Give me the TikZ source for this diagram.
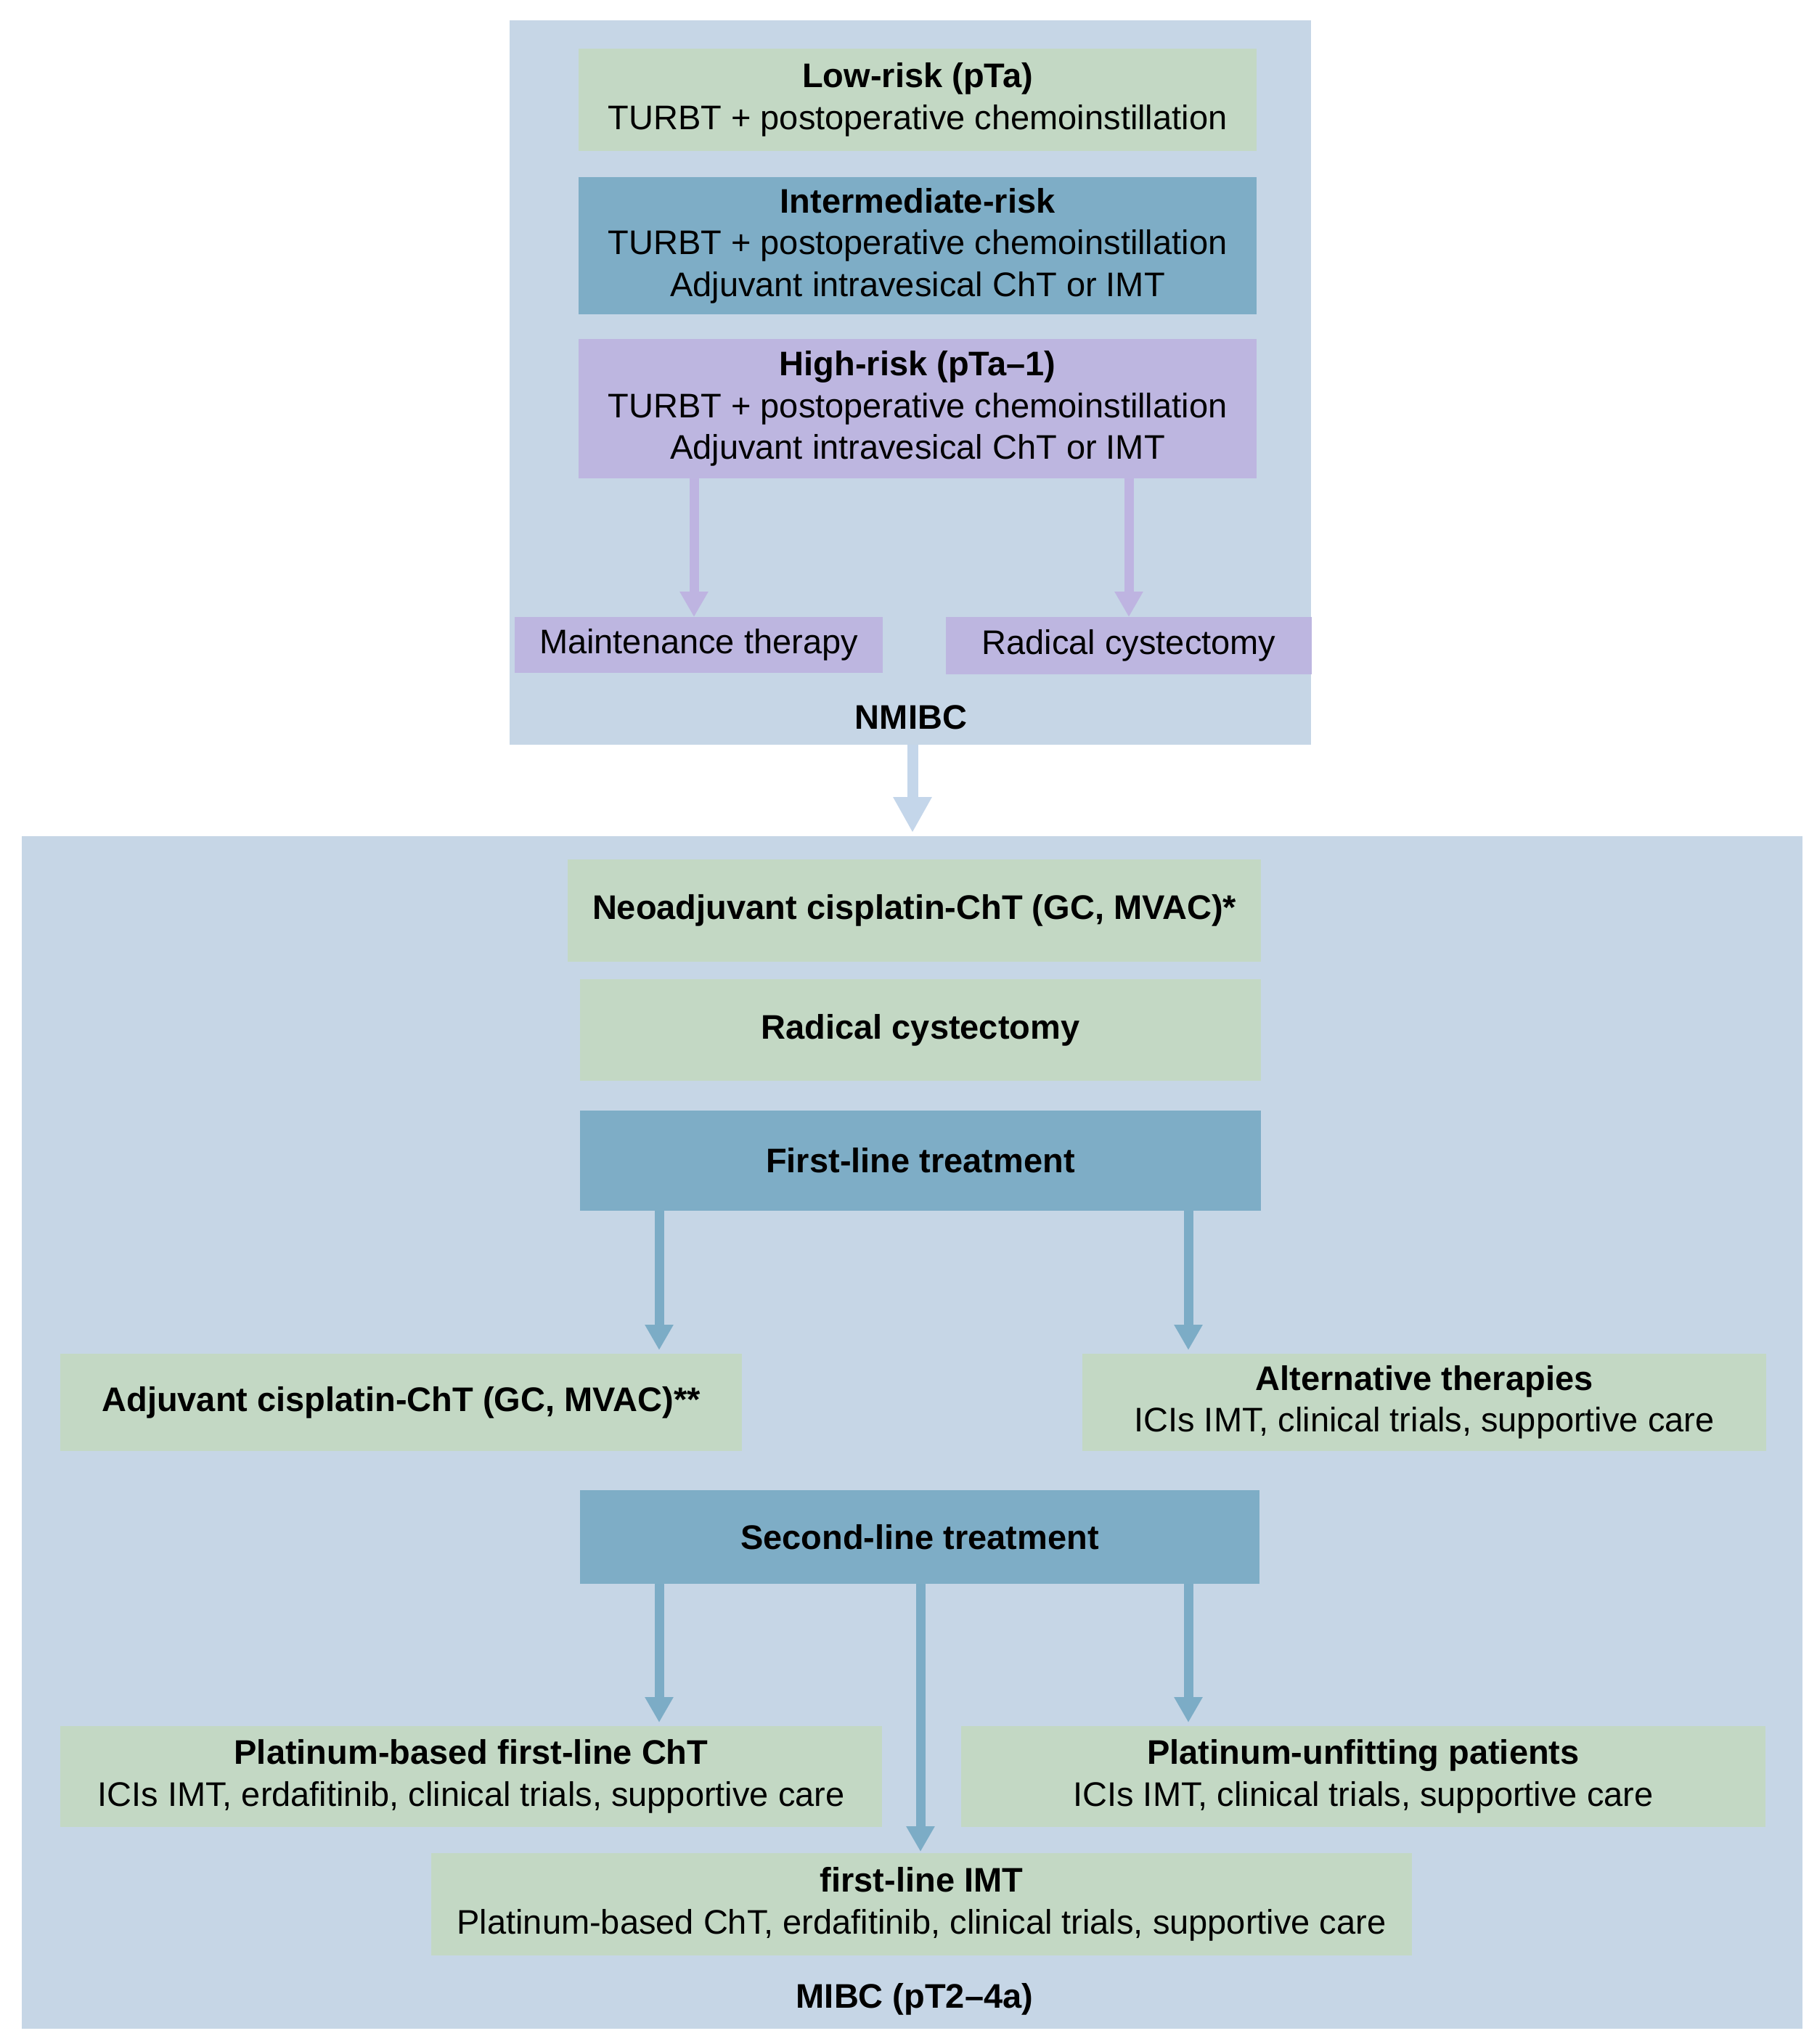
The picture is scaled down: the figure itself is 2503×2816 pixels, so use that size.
\documentclass[tikz,border=0pt]{standalone}
\usepackage{fontspec}
\setmainfont{Liberation Sans}
\usetikzlibrary{arrows.meta}
\definecolor{panelc}{RGB}{198,214,230}
\definecolor{greenc}{RGB}{195,216,196}
\definecolor{tealc}{RGB}{126,173,198}
\definecolor{purplec}{RGB}{189,182,224}
\definecolor{purplearr}{RGB}{190,180,225}
\definecolor{bluearr}{RGB}{124,172,198}
\definecolor{bigarr}{RGB}{196,214,234}
\begin{document}
\begin{tikzpicture}[x=0.25pt,y=-0.25pt,
  box/.style={inner sep=0pt, outer sep=0pt, align=center, text=black,
    font=\fontsize{11.75}{14.4}\selectfont},
  panel/.style={fill=panelc, inner sep=0pt, outer sep=0pt},
  greenbox/.style={box, fill=greenc},
  tealbox/.style={box, fill=tealc},
  purplebox/.style={box, fill=purplec},
  plabel/.style={box, font=\fontsize{11.75}{14.4}\selectfont\bfseries},
  parr/.style={draw=purplearr, line width=3.25pt, -{Triangle[width=9.25pt,length=8.75pt]}},
  barr/.style={draw=bluearr, line width=3.25pt, -{Triangle[width=9.25pt,length=8.75pt]}, shorten >=1.25pt},
  bigarrow/.style={draw=bigarr, line width=3.75pt, -{Triangle[width=12.5pt,length=12.25pt]}, shorten >=1.25pt}
]
\useasboundingbox (0,0) rectangle (2503,2816);
\fill[white] (0,0) rectangle (2503,2816);

% ---------- NMIBC panel ----------
\node[panel, minimum width=276pt, minimum height=249.5pt] (nmibc) at (1254,527) {};
\node[greenbox, minimum width=233.5pt, minimum height=35.25pt] (low) at (1264,137.5)
  {\textbf{Low-risk (pTa)}\\TURBT + postoperative chemoinstillation};
\node[tealbox, minimum width=233.5pt, minimum height=47.25pt] (inter) at (1264,338.5)
  {\textbf{Intermediate-risk}\\TURBT + postoperative chemoinstillation\\Adjuvant intravesical ChT or IMT};
\node[purplebox, minimum width=233.5pt, minimum height=48pt] (high) at (1264,563)
  {\textbf{High-risk (pTa–1)}\\TURBT + postoperative chemoinstillation\\Adjuvant intravesical ChT or IMT};
\node[purplebox, minimum width=126.75pt, minimum height=19.25pt] (maint) at (962.5,888.5)
  {Maintenance therapy};
\node[purplebox, minimum width=126pt, minimum height=19.75pt] (radtop) at (1555,889.5)
  {Radical cystectomy};
\node[plabel] (nmibclabel) at (1255,988) {NMIBC};

\coordinate (xm) at (956,0);
\coordinate (xr) at (1555,0);
\draw[parr] (high.south -| xm) -- (maint.north -| xm);
\draw[parr] (high.south -| xr) -- (radtop.north -| xr);

% ---------- MIBC panel ----------
\node[panel, minimum width=613.25pt, minimum height=410.75pt] (mibc) at (1256.5,1973.5) {};
\coordinate (xc) at (1257,0);
\draw[bigarrow] (nmibc.south -| xc) -- (mibc.north -| xc);

\node[greenbox, font=\fontsize{11.75}{14.4}\selectfont\bfseries, minimum width=238.75pt, minimum height=35.25pt] (neo) at (1259.5,1254.5)
  {Neoadjuvant cisplatin-ChT (GC, MVAC)*};
\node[greenbox, font=\fontsize{11.75}{14.4}\selectfont\bfseries, minimum width=234.5pt, minimum height=35pt] (rad) at (1268,1419)
  {Radical cystectomy};
\node[tealbox, font=\fontsize{11.75}{14.4}\selectfont\bfseries, minimum width=234.5pt, minimum height=34.5pt] (first) at (1268,1599)
  {First-line treatment};
\node[greenbox, font=\fontsize{11.75}{14.4}\selectfont\bfseries, minimum width=234.75pt, minimum height=33.5pt] (adj) at (552.5,1932)
  {Adjuvant cisplatin-ChT (GC, MVAC)**};
\node[greenbox, minimum width=235.5pt, minimum height=33.5pt] (alt) at (1962,1932)
  {\textbf{Alternative therapies}\\ICIs IMT, clinical trials, supportive care};
\node[tealbox, font=\fontsize{11.75}{14.4}\selectfont\bfseries, minimum width=234pt, minimum height=32.25pt] (second) at (1267,2117.5)
  {Second-line treatment};
\node[greenbox, minimum width=283pt, minimum height=34.75pt] (pb) at (649,2447.5)
  {\textbf{Platinum-based first-line ChT}\\ICIs IMT, erdafitinib, clinical trials, supportive care};
\node[greenbox, minimum width=277pt, minimum height=34.75pt] (pu) at (1878,2447.5)
  {\textbf{Platinum-unfitting patients}\\ICIs IMT, clinical trials, supportive care};
\node[greenbox, minimum width=337.75pt, minimum height=35.25pt] (imt) at (1269.5,2623.5)
  {\textbf{first-line IMT}\\Platinum-based ChT, erdafitinib, clinical trials, supportive care};
\node[plabel] (mibclabel) at (1260,2754) {MIBC (pT2–4a)};

\coordinate (xl) at (908,0);
\coordinate (xrr) at (1637,0);
\coordinate (xmid) at (1268,0);
\draw[barr] (first.south -| xl) -- (adj.north -| xl);
\draw[barr] (first.south -| xrr) -- (alt.north -| xrr);
\draw[barr] (second.south -| xl) -- (pb.north -| xl);
\draw[barr] (second.south -| xrr) -- (pu.north -| xrr);
\draw[barr, shorten >=0.5pt] (second.south -| xmid) -- (imt.north -| xmid);
\end{tikzpicture}
\end{document}
